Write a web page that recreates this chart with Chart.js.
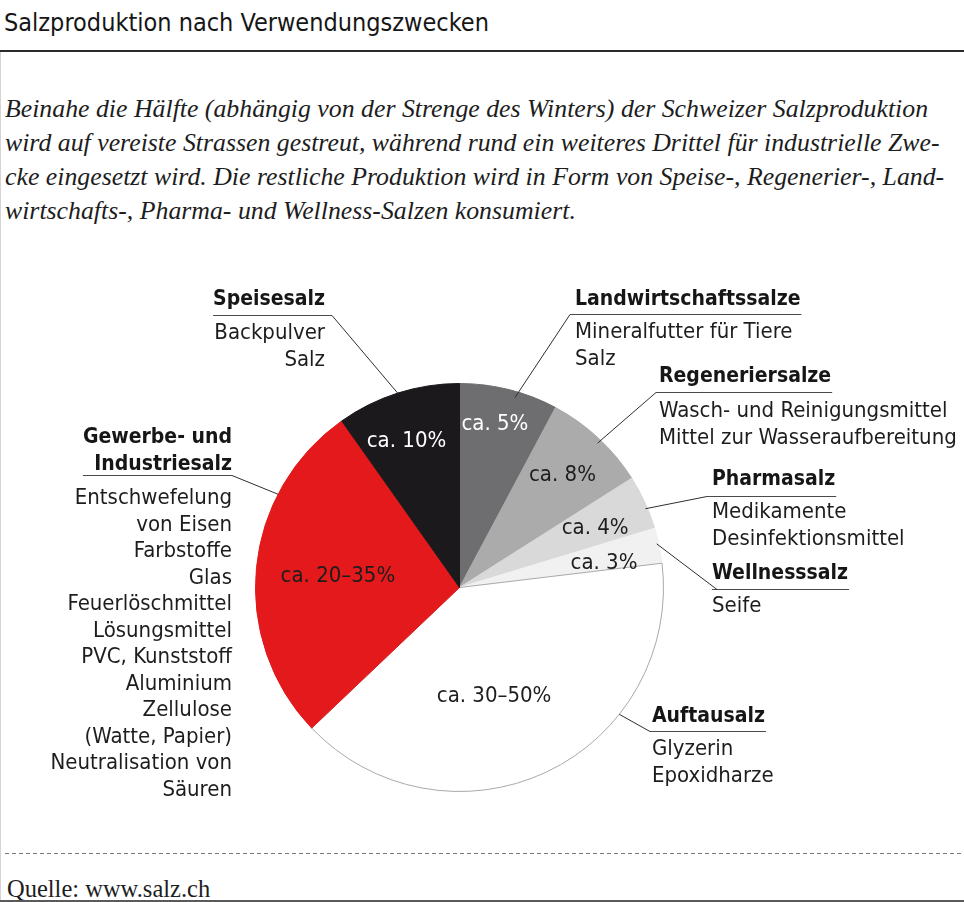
<!DOCTYPE html>
<html lang="de">
<head>
<meta charset="utf-8">
<title>Salzproduktion nach Verwendungszwecken</title>
<script src="https://cdn.jsdelivr.net/npm/chart.js@4.4.0/dist/chart.umd.min.js"></script>
<style>
  html, body { margin: 0; padding: 0; background: #fff; }
  body { width: 964px; height: 902px; position: relative; overflow: hidden; }
  .title {
    position: absolute; left: 4px; top: 8px;
    font: 25px/30px "DejaVu Sans Condensed", "DejaVu Sans", sans-serif;
    font-stretch: condensed; color: #161616; white-space: nowrap;
  }
  .rule { position: absolute; left: 0; top: 50px; width: 964px; height: 2px; background: #2a2a2a; }
  .side { position: absolute; left: 0; top: 52px; width: 1px; height: 850px; background: #d4d4d4; }
  .intro {
    position: absolute; left: 5px; top: 92px;
    font: italic 25.8px/34px "Liberation Serif", "Times New Roman", serif;
    color: #1d1d1d; white-space: nowrap;
  }
  .dash {
    position: absolute; left: 5px; top: 853px; width: 959px; height: 1px;
    background: repeating-linear-gradient(to right, #7a7a7a 0 4px, transparent 4px 7px);
  }
  .source {
    position: absolute; left: 7px; top: 875px;
    font: 24.5px/28px "Liberation Serif", "Times New Roman", serif; color: #1d1d1d;
  }
  .bottom { position: absolute; left: 0; top: 900px; width: 964px; height: 2px; background: #5a5a5a; }
  #pie { position: absolute; left: 0; top: 0; }
</style>
</head>
<body>
<div class="title">Salzproduktion nach Verwendungszwecken</div>
<div class="rule"></div>
<div class="side"></div>
<div class="intro">
  <div>Beinahe die Hälfte (abhängig von der Strenge des Winters) der Schweizer Salzproduktion</div>
  <div>wird auf vereiste Strassen gestreut, während rund ein weiteres Drittel für industrielle Zwe-</div>
  <div>cke eingesetzt wird. Die restliche Produktion wird in Form von Speise-, Regenerier-, Land-</div>
  <div>wirtschafts-, Pharma- und Wellness-Salzen konsumiert.</div>
</div>
<div class="dash"></div>
<div class="source">Quelle: www.salz.ch</div>
<div class="bottom"></div>
<canvas id="pie" width="964" height="902"></canvas>

<script>
const categories = ['Landwirtschaftssalze', 'Regeneriersalze', 'Pharmasalz', 'Wellnesssalz',
  'Auftausalz', 'Gewerbe- und Industriesalz', 'Speisesalz'];
const shares = [7.8, 8.2, 4.3, 2.8, 39.8, 27.3, 9.8];
const shareLabels = ['ca. 5%', 'ca. 8%', 'ca. 4%', 'ca. 3%', 'ca. 30–50%', 'ca. 20–35%', 'ca. 10%'];
const headings = [['Landwirtschaftssalze'], ['Regeneriersalze'], ['Pharmasalz'], ['Wellnesssalz'],
  ['Auftausalz'], ['Gewerbe- und', 'Industriesalz'], ['Speisesalz']];
const uses = [
  ['Mineralfutter für Tiere', 'Salz'],
  ['Wasch- und Reinigungsmittel', 'Mittel zur Wasseraufbereitung'],
  ['Medikamente', 'Desinfektionsmittel'],
  ['Seife'],
  ['Glyzerin', 'Epoxidharze'],
  ['Entschwefelung', 'von Eisen', 'Farbstoffe', 'Glas', 'Feuerlöschmittel', 'Lösungsmittel',
   'PVC, Kunststoff', 'Aluminium', 'Zellulose', '(Watte, Papier)', 'Neutralisation von', 'Säuren'],
  ['Backpulver', 'Salz']
];

const sliceColors = ['#6e6e70', '#ababab', '#d9d9d9', '#f1f1f1', '#ffffff', '#e3191b', '#1c191d'];
const labelColors = ['#ffffff', '#1d1d1d', '#1d1d1d', '#1d1d1d', '#1d1d1d', '#1d1d1d', '#ffffff'];

// Lage der Prozentzahlen im Kreis: Anteil des Winkels im Segment, Anteil des Radius
const pctPos = [[0.43, 0.83], [0.47, 0.755], [0.52, 0.73], [0.66, 0.72], [0.55, 0.548], [0.51, 0.60], [0.445, 0.775]];

// Beschriftungen aussen: Text-x, Grundlinie Titel, Grundlinie erste Zeile, Linie y, Knick x, Ankerwinkel
const callouts = [
  { align: 'left',  x: 575, head: 305, sub: 338, lineY: 314, knee: 570, frac: 0.58, rf: 0.97 },
  { align: 'left',  x: 659, head: 382, sub: 417, lineY: 392, knee: 656, frac: 0.53, rf: 0.98 },
  { align: 'left',  x: 712, head: 485, sub: 518, lineY: 496, knee: 707, frac: 0.61, rf: 0.99 },
  { align: 'left',  x: 712, head: 579, sub: 612, lineY: 589, knee: 717, frac: 0.44, rf: 0.99 },
  { align: 'left',  x: 652, head: 722, sub: 755, lineY: 731, knee: 650, frac: 0.316, rf: 1.0 },
  { align: 'right', x: 232, head: 443, sub: 504, lineY: 475, knee: 232, frac: 0.72, rf: 1.0 },
  { align: 'right', x: 325, head: 305, sub: 339, lineY: 315, knee: 332, frac: 0.5, rf: 1.0 }
];

const FONT_FAMILY = '"DejaVu Sans Condensed", "DejaVu Sans", sans-serif';
const LINE_STEP = 26.5;

const calloutPlugin = {
  id: 'callouts',
  afterDatasetsDraw(chart) {
    const ctx = chart.ctx;
    const arcs = chart.getDatasetMeta(0).data;
    ctx.save();
    if ('fontStretch' in ctx) ctx.fontStretch = 'condensed';

    arcs.forEach((arc, i) => {
      const p = arc.getProps(['x', 'y', 'startAngle', 'endAngle', 'outerRadius'], true);

      // Prozentwerte
      const [fa, fr] = pctPos[i];
      const a = p.startAngle + fa * (p.endAngle - p.startAngle);
      const r = fr * p.outerRadius;
      ctx.font = '22px ' + FONT_FAMILY;
      ctx.fillStyle = labelColors[i];
      ctx.textAlign = 'center';
      ctx.textBaseline = 'alphabetic';
      ctx.fillText(shareLabels[i], p.x + r * Math.cos(a), p.y + r * Math.sin(a) + 8);

      // Beschriftung aussen
      const c = callouts[i];
      ctx.textAlign = c.align;
      ctx.fillStyle = '#161616';
      ctx.font = 'bold 21px ' + FONT_FAMILY;
      let headW = 0;
      headings[i].forEach((t, k) => {
        ctx.fillText(t, c.x, c.head + k * LINE_STEP);
        headW = Math.max(headW, ctx.measureText(t).width);
      });
      ctx.fillStyle = '#1d1d1d';
      ctx.font = '22px ' + FONT_FAMILY;
      uses[i].forEach((t, k) => ctx.fillText(t, c.x, c.sub + k * LINE_STEP));

      // Linie unter dem Titel und Verbindung zum Segment
      const la = p.startAngle + c.frac * (p.endAngle - p.startAngle);
      const lr = c.rf * p.outerRadius;
      const ax = p.x + lr * Math.cos(la);
      const ay = p.y + lr * Math.sin(la);
      const x0 = c.align === 'left' ? Math.min(c.knee, c.x) : c.x - headW;
      const x1 = c.align === 'left' ? c.x + headW + 1 : Math.max(c.knee, c.x);

      ctx.lineWidth = 1;
      ctx.strokeStyle = '#4a4a4a';
      ctx.beginPath();
      ctx.moveTo(x0, c.lineY + 0.5);
      ctx.lineTo(x1, c.lineY + 0.5);
      ctx.stroke();

      ctx.strokeStyle = '#2e2e2e';
      ctx.beginPath();
      ctx.moveTo(c.knee, c.lineY + 0.5);
      ctx.lineTo(ax, ay);
      ctx.stroke();
    });
    ctx.restore();
  }
};

new Chart(document.getElementById('pie'), {
  type: 'pie',
  data: {
    labels: categories,
    datasets: [{
      data: shares,
      backgroundColor: sliceColors,
      borderColor: sliceColors.map(c => c === '#ffffff' ? '#a9a9a9' : c),
      borderWidth: 1
    }]
  },
  options: {
    responsive: false,
    animation: false,
    devicePixelRatio: 1,
    layout: { padding: { left: 255, right: 300, top: 383, bottom: 110 } },
    plugins: {
      legend: { display: false },
      tooltip: { enabled: false }
    }
  },
  plugins: [calloutPlugin]
});
</script>
</body>
</html>
